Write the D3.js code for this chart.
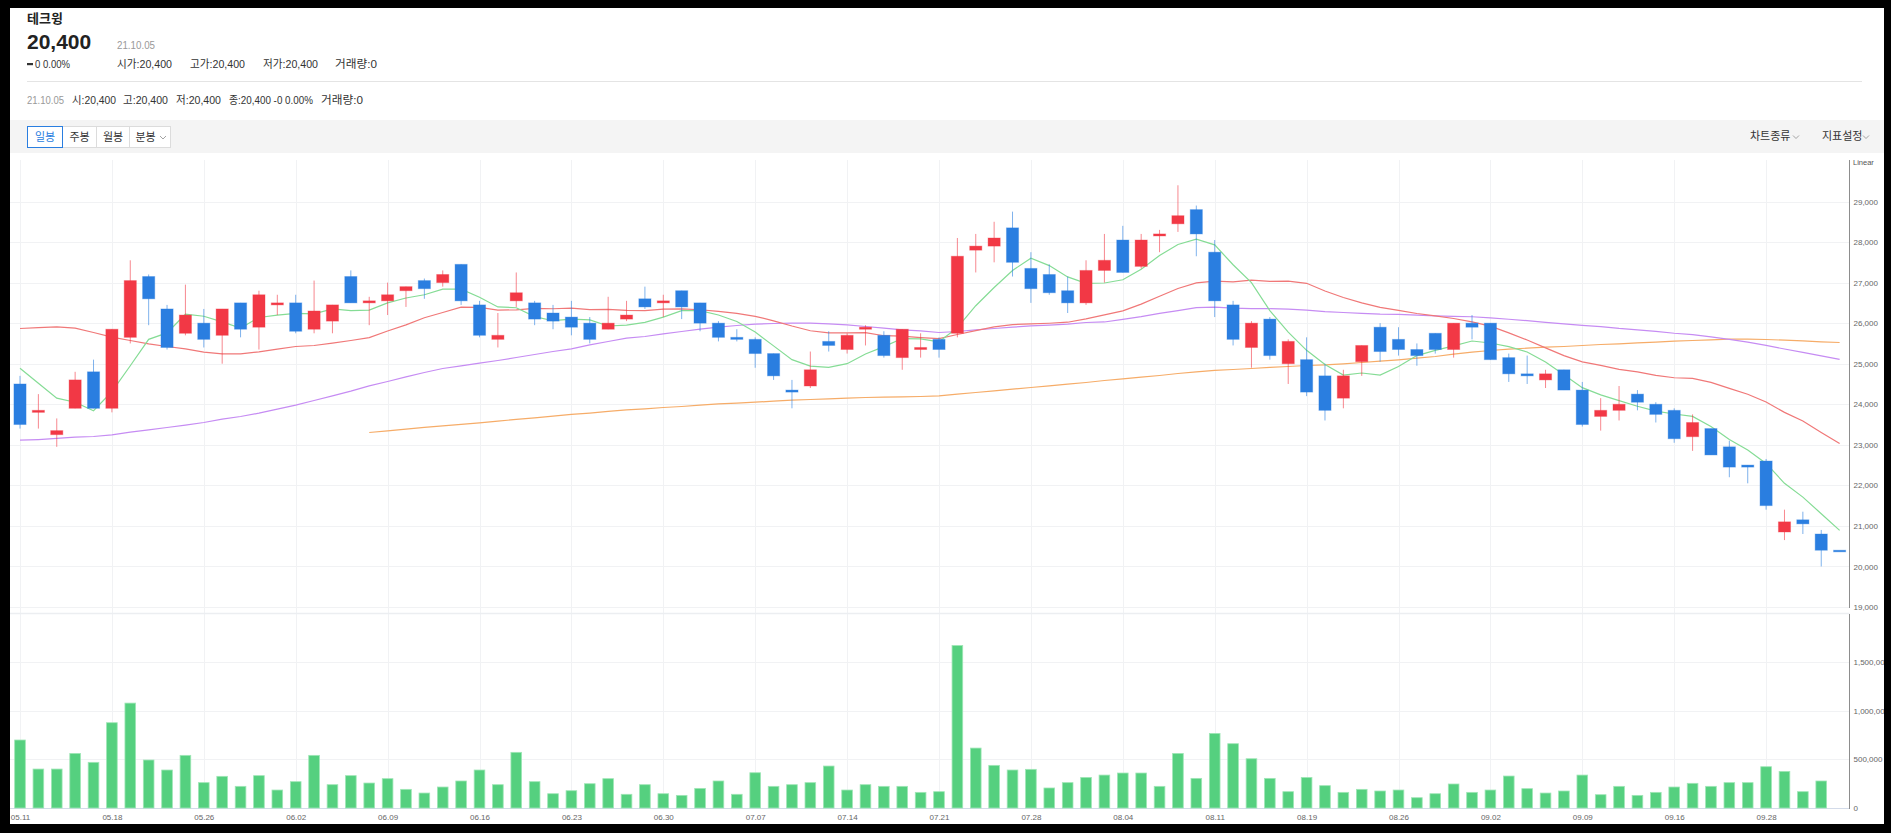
<!DOCTYPE html>
<html><head><meta charset="utf-8">
<script src="https://cdn.jsdelivr.net/npm/d3@7"></script>
<style>
body{margin:0;background:#000;overflow:hidden}
svg{display:block}
text{font-family:"Liberation Sans","Noto Sans CJK KR",sans-serif}
</style></head><body><svg id="c" width="1891" height="833"></svg>
<script>
// ---------------- data ----------------
const dates = ["05.11","05.12","05.13","05.14","05.17","05.18","05.20","05.21","05.24","05.25","05.26","05.27","05.28","05.31",
"06.01","06.02","06.03","06.04","06.07","06.08","06.09","06.10","06.11","06.14","06.15","06.16","06.17","06.18","06.21","06.22","06.23","06.24","06.25","06.28","06.29","06.30",
"07.01","07.02","07.05","07.06","07.07","07.08","07.09","07.12","07.13","07.14","07.15","07.16","07.19","07.20","07.21","07.22","07.23","07.26","07.27","07.28","07.29","07.30",
"08.02","08.03","08.04","08.05","08.06","08.09","08.10","08.11","08.12","08.13","08.17","08.18","08.19","08.20","08.23","08.24","08.25","08.26","08.27","08.30","08.31",
"09.01","09.02","09.03","09.06","09.07","09.08","09.09","09.10","09.13","09.14","09.15","09.16","09.17","09.23","09.24","09.27","09.28","09.29","09.30",
"10.01","10.05"];
const xTickLabels = ["05.11","05.18","05.26","06.02","06.09","06.16","06.23","06.30","07.07","07.14","07.21","07.28","08.04","08.11","08.19","08.26","09.02","09.09","09.16","09.28"];
const priceTicks = [19000,20000,21000,22000,23000,24000,25000,26000,27000,28000,29000];
const volumeTicks = [0,500000,1000000,1500000];

const open = [24500,23800,23250,23900,24800,23900,25650,27150,26350,25750,26000,25700,26500,25900,26450,26500,25850,26050,27150,26500,
26550,26800,27050,27000,27450,26450,25600,26550,26500,26250,26150,26000,25850,26100,26600,26500,26800,26500,26000,25650,
25600,25250,24350,24450,25550,25350,25850,25700,25150,25350,25600,25750,27800,27900,28350,27350,27200,26800,26500,27300,
28050,27400,28150,28450,28800,27750,26450,25400,26100,25000,25100,24700,24150,25050,25900,25600,25350,25750,25350,26000,
26000,25150,24750,24600,24850,24350,23700,23850,24250,24000,23850,23200,23400,22950,22500,22600,20850,21150,20800,20400];
const high = [24700,24250,23650,24800,25100,25850,27550,27200,26450,26950,26350,26350,26500,26800,26700,26700,27050,26450,27300,26650,
27000,26900,27100,27300,27450,26550,26250,27250,26550,26450,26550,26150,26650,26550,26900,26700,26800,26500,26050,25850,
25650,25250,24600,25300,25800,25750,25950,25800,25850,25750,25650,28100,28200,28500,28750,27750,27450,27150,27550,28200,
28400,28200,28300,29400,28900,28050,26550,26050,26150,25600,25650,25000,24850,25450,26000,25900,25500,25750,26000,26200,
26000,25250,25200,24850,24850,24550,24150,24450,24350,24050,23900,23750,23400,23100,22500,22650,21400,21350,20900,20400];
const low = [23400,23400,22950,23900,23900,23800,25500,25950,25350,25700,25400,25000,25650,25350,26200,25750,25750,25750,26500,25950,
26200,26400,26600,26900,26450,25650,25400,26400,25950,25850,25700,25500,25850,26050,26350,26150,26100,25800,25550,25550,
24900,24600,23900,24400,25300,25250,25450,25150,24850,25150,25150,25650,27250,27500,27150,26500,26700,26250,26450,27000,
27250,27350,27750,28250,27650,26150,25450,24900,25100,24500,24200,23600,23900,24700,25050,25200,24950,25250,25150,25600,
25100,24550,24500,24400,24350,23450,23350,23600,23850,23550,23050,22850,22750,22200,22050,21400,20650,20800,20000,20400];
const close = [23500,23850,23350,24600,23900,25850,27050,26600,25400,26200,25600,26350,25850,26700,26500,25800,26300,26450,26500,26550,
26700,26900,26850,27200,26550,25700,25700,26750,26100,26050,25900,25600,26000,26200,26400,26550,26400,26000,25650,25600,
25250,24700,24300,24850,25450,25700,25900,25200,25850,25400,25350,27650,27900,28100,27500,26850,26750,26500,27300,27550,
27250,28050,28200,28650,28200,26550,25600,26000,25200,25550,24300,23850,24700,25450,25300,25350,25200,25350,26000,25900,
25100,24750,24700,24750,24350,23500,23850,24000,24050,23750,23150,23550,22750,22450,22450,21500,21100,21050,20400,20400];
const volume = [700000,401000,401000,562000,470000,878000,1080000,494000,391000,542000,261000,326000,223000,333000,185000,271000,542000,240000,333000,257000,
302000,192000,154000,216000,278000,391000,240000,573000,271000,147000,178000,250000,302000,141000,240000,147000,130000,202000,278000,141000,
363000,223000,240000,261000,432000,185000,240000,223000,223000,161000,168000,1673000,617000,439000,391000,398000,206000,261000,315000,339000,
360000,360000,223000,562000,305000,768000,662000,507000,305000,168000,315000,230000,161000,192000,175000,185000,106000,147000,247000,161000,
185000,329000,199000,154000,175000,339000,137000,223000,130000,161000,216000,254000,223000,261000,261000,425000,377000,168000,278000,0];
const ma5 = [24890,24520,24150,24050,23840,24310,24950,25600,25760,26220,26170,26030,25880,26140,26200,26240,26230,26350,26310,26320,
26500,26620,26700,26840,26840,26640,26400,26380,26160,26060,26100,26080,25930,25950,26020,26150,26310,26310,26200,26040,
25780,25440,25100,24940,24910,25000,25240,25420,25620,25610,25540,25890,26430,26880,27300,27600,27420,27140,26980,26990,
27070,27330,27670,27940,28070,27930,27440,27000,26310,25780,25330,24980,24720,24770,24720,24930,25200,25330,25440,25560,
25510,25420,25290,25040,24730,24410,24230,24090,23950,23830,23760,23700,23450,23130,22870,22540,22050,21710,21300,20890];
const ma20 = [25868,25890,25909,25876,25770,25655,25572,25490,25424,25367,25285,25243,25243,25293,25358,25424,25449,25507,25572,25645,
25805,25958,26133,26263,26395,26388,26320,26328,26363,26355,26370,26333,26340,26315,26310,26348,26353,26330,26288,26240,
26168,26058,25930,25813,25758,25758,25768,25690,25678,25645,25618,25720,25815,25910,25965,25980,25998,26023,26105,26203,
26303,26470,26665,26855,26993,27035,27020,27060,27028,27035,26983,26793,26633,26500,26390,26315,26238,26180,26115,26033,
25925,25760,25585,25390,25198,25045,24958,24858,24800,24710,24653,24638,24540,24390,24248,24055,23800,23585,23305,23030];
const ma60 = [23114,23130,23156,23189,23205,23246,23312,23369,23427,23484,23550,23632,23698,23780,23879,23978,24093,24208,24323,24454,
24561,24676,24783,24882,24948,25013,25079,25153,25227,25301,25367,25466,25548,25630,25671,25737,25794,25852,25901,25942,
25975,25991,26000,26000,25983,25959,25918,25877,25836,25811,25770,25794,25836,25868,25900,25934,25950,25975,26016,26029,
26092,26162,26243,26310,26382,26393,26369,26359,26356,26345,26323,26282,26263,26242,26222,26214,26196,26178,26169,26158,
26132,26096,26060,26019,25983,25946,25915,25869,25835,25797,25751,25717,25663,25600,25534,25450,25362,25279,25192,25105];
const ma120 = [null,null,null,null,null,null,null,null,null,null,null,null,null,null,null,null,null,null,null,23304,
23345,23387,23428,23469,23502,23543,23584,23625,23666,23707,23748,23781,23822,23863,23887,23920,23945,23978,24010,24027,
24052,24076,24101,24117,24134,24150,24167,24175,24183,24191,24208,24249,24290,24331,24372,24413,24454,24495,24537,24586,
24627,24668,24709,24759,24800,24833,24857,24882,24907,24931,24956,24972,24997,25030,25063,25096,25137,25178,25235,25284,
25326,25358,25383,25408,25424,25449,25474,25490,25515,25531,25556,25572,25589,25605,25605,25597,25580,25564,25539,25523];

// ---------------- drawing ----------------
const RED = "#f23845", BLUE = "#2a7ee0", VOL = "#55d07f";
const svg = d3.select("#c");
svg.append("rect").attr("width",1891).attr("height",833).attr("fill","#000");
svg.append("rect").attr("x",10).attr("y",8).attr("width",1874).attr("height",816).attr("fill","#fff");

const root = svg.append("g");
const T = (txt, x, y, size, fill, w) => {
  const t = root.append("text").attr("x",x).attr("y",y).attr("font-size",size).attr("fill",fill).text(txt);
  if (w) t.attr("textLength",w).attr("lengthAdjust","spacingAndGlyphs");
  return t;
};
// header
T("테크윙", 27, 22.5, 13, "#222").attr("font-weight","bold");
T("20,400", 27, 49, 21, "#222").attr("font-weight","bold");
T("21.10.05", 117, 49, 11, "#999", 38);
root.append("rect").attr("x",27).attr("y",63).attr("width",6).attr("height",2.2).attr("fill","#333");
T("0 0.00%", 35, 68, 11, "#333", 35);
T("시가:20,400", 117, 68, 11, "#333", 55);
T("고가:20,400", 190, 68, 11, "#333", 55);
T("저가:20,400", 263, 68, 11, "#333", 55);
T("거래량:0", 335, 68, 11, "#333", 42);
root.append("line").attr("x1",27).attr("x2",1862).attr("y1",81.5).attr("y2",81.5).attr("stroke","#e4e4e4");
T("21.10.05", 27, 104, 11, "#999", 37);
T("시:20,400", 72, 104, 11, "#333", 44);
T("고:20,400", 123, 104, 11, "#333", 45);
T("저:20,400", 176, 104, 11, "#333", 45);
T("종:20,400 -0 0.00%", 229, 104, 11, "#333", 84);
T("거래량:0", 321, 104, 11, "#333", 42);

// toolbar
root.append("rect").attr("x",10).attr("y",120).attr("width",1874).attr("height",33).attr("fill","#f4f4f4");
const btns = [["일봉",27,62],["주봉",62,96],["월봉",96,129],["분봉",129,170]];
btns.forEach((b,i)=>{
  root.append("rect").attr("x",b[1]+0.5).attr("y",126.5).attr("width",b[2]-b[1]).attr("height",21)
    .attr("fill","#fff").attr("stroke","#dcdcdc");
});
root.append("rect").attr("x",27.5).attr("y",126.5).attr("width",35).attr("height",21).attr("fill","none").attr("stroke",BLUE);
btns.forEach((b,i)=>{
  const cx = i===3 ? (b[1]+b[2])/2 - 4 : (b[1]+b[2])/2 + 0.5;
  T(b[0], cx, 141, 11, i===0?BLUE:"#333").attr("text-anchor","middle");
});
const chev = (x,y)=>root.append("path").attr("d",`M${x},${y} L${x+3},${y+3} L${x+6},${y}`).attr("fill","none").attr("stroke","#999").attr("stroke-width",0.9);
chev(160,136);
T("차트종류", 1750, 139.5, 11, "#333");
chev(1793,135.5);
T("지표설정", 1822, 139.5, 11, "#333");
chev(1863,135.5);

// scales
const x = d3.scalePoint().domain(dates).range([20, 20 + 99*18.38]);
const y = d3.scaleLinear().domain([19000, 29000]).range([607, 201.5]);
const yv = d3.scaleLinear().domain([0, 1500000]).range([808, 662.3]);
const AX = 1849.5;

// grid
const grid = root.append("g");
grid.selectAll(".hg").data(priceTicks).join("line")
  .attr("x1",10).attr("x2",AX).attr("y1",d=>Math.round(y(d))+0.5).attr("y2",d=>Math.round(y(d))+0.5)
  .attr("stroke","#f1f2f4");
grid.selectAll(".vg").data(volumeTicks.slice(1)).join("line")
  .attr("x1",10).attr("x2",AX).attr("y1",d=>Math.round(yv(d))+0.5).attr("y2",d=>Math.round(yv(d))+0.5)
  .attr("stroke","#f1f2f4");
grid.selectAll(".xg").data(xTickLabels).join("line")
  .attr("x1",d=>Math.round(x(d))+0.5).attr("x2",d=>Math.round(x(d))+0.5).attr("y1",160).attr("y2",808)
  .attr("stroke","#f1f2f4");
root.append("line").attr("x1",10).attr("x2",AX).attr("y1",613.5).attr("y2",613.5).attr("stroke","#eceef1").attr("stroke-width",1.5);
root.append("line").attr("x1",10).attr("x2",AX).attr("y1",808.5).attr("y2",808.5).attr("stroke","#d3dbe9");

// clip for price pane
svg.append("defs").append("clipPath").attr("id","pc").append("rect").attr("x",10).attr("y",160).attr("width",AX-10).attr("height",452);
const pane = root.append("g").attr("clip-path","url(#pc)");

// moving averages
const line = d3.line().defined(d=>d!=null).x((d,i)=>x(dates[i])).y(d=>y(d));
[[ma120,"#f6ac68"],[ma60,"#c68cf3"],[ma20,"#f07878"],[ma5,"#85dc95"]].forEach(([arr,col])=>{
  pane.append("path").datum(arr).attr("d",line).attr("fill","none").attr("stroke",col).attr("stroke-width",1.2);
});

// candles
const bw = x.step()*0.66;
const cg = pane.append("g");
dates.forEach((d,i)=>{
  const up = close[i] > open[i];
  const col = up ? RED : BLUE;
  const cx = x(d);
  cg.append("line").attr("x1",cx).attr("x2",cx).attr("y1",y(high[i])).attr("y2",y(low[i]))
    .attr("stroke",col).attr("stroke-opacity",0.6).attr("stroke-width",1);
  const top = y(Math.max(open[i],close[i])), bot = y(Math.min(open[i],close[i]));
  const h = Math.max(bot-top, 1.6);
  cg.append("rect").attr("x",cx-bw/2).attr("y",top).attr("width",bw).attr("height",h)
    .attr("fill",col).attr("stroke",col).attr("stroke-opacity",0.35).attr("stroke-width",1);
});

// volume bars
const vw = x.step()*0.58;
root.append("g").selectAll("rect").data(volume).join("rect")
  .attr("x",(v,i)=>x(dates[i])-vw/2).attr("y",v=>yv(v)).attr("width",vw).attr("height",v=>yv(0)-yv(v))
  .attr("fill",VOL).attr("stroke","#9fe6b6").attr("stroke-width",0.8);

// axes
root.append("line").attr("x1",AX).attr("x2",AX).attr("y1",160).attr("y2",608).attr("stroke","#8d8d8d");
root.append("line").attr("x1",AX).attr("x2",AX).attr("y1",614).attr("y2",809).attr("stroke","#8d8d8d");
const pa = root.append("g").attr("transform",`translate(${AX},0)`)
  .call(d3.axisRight(y).tickValues(priceTicks).tickSize(0).tickPadding(4).tickFormat(d3.format(",")));
const va = root.append("g").attr("transform",`translate(${AX},0)`)
  .call(d3.axisRight(yv).tickValues(volumeTicks).tickSize(0).tickPadding(4).tickFormat(d3.format(",")));
const xa = root.append("g").attr("transform","translate(0,808)")
  .call(d3.axisBottom(x).tickValues(xTickLabels).tickSize(0).tickPadding(6));
[pa,va,xa].forEach(a=>{
  a.select(".domain").remove();
  a.selectAll("text").attr("font-size",8).attr("fill","#666").attr("font-family","Liberation Sans, sans-serif");
});
T("Linear", AX+3.5, 165, 7.5, "#555");
// black frame right/bottom edges (clip axis label overflow)
svg.append("rect").attr("x",1884).attr("y",0).attr("width",7).attr("height",833).attr("fill","#000");
svg.append("rect").attr("x",0).attr("y",824).attr("width",1891).attr("height",9).attr("fill","#000");
</script></body></html>
